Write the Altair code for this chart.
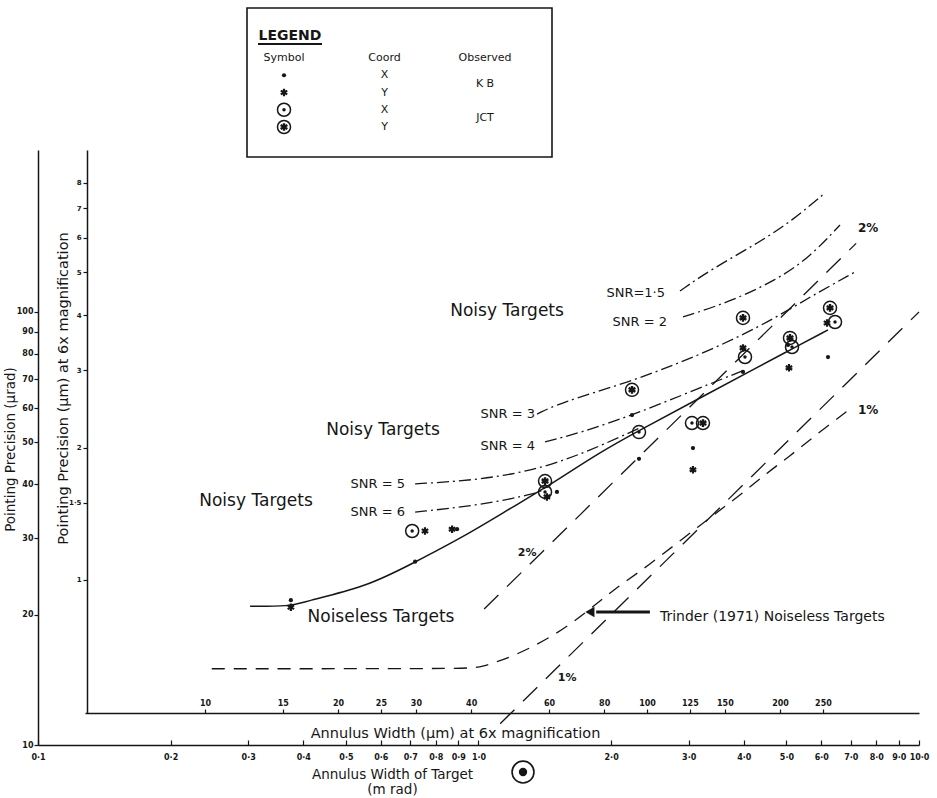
import altair as alt
import pandas as pd

# ---------------- data (annulus width in mrad, pointing precision in micro-rad) ----------------
kb_x_width = [0.375, 0.718, 0.894, 1.507, 2.231, 2.314, 3.068, 3.985, 5.042, 6.215]
kb_x_prec = [21.6, 26.5, 31.5, 38.4, 57.8, 45.8, 48.5, 72.7, 83.9, 78.7]
kb_y_width = [0.375, 0.756, 0.871, 1.430, 3.068, 3.985, 5.068, 6.183]
kb_y_prec = [20.8, 31.2, 31.5, 37.4, 43.2, 82.6, 74.3, 94.3]
jct_x_width = [0.707, 1.416, 2.314, 3.052, 4.027, 5.149, 6.447]
jct_x_prec = [31.2, 38.4, 52.8, 55.4, 78.7, 83.0, 94.8]
jct_y_width = [1.416, 2.231, 3.233, 3.985, 5.095, 6.281]
jct_y_prec = [40.7, 66.1, 55.4, 96.9, 87.1, 102.2]

fit_width = [0.303, 0.373, 0.400, 0.558, 0.710, 0.922, 1.198, 1.416, 1.888, 2.326, 3.183, 4.356, 5.095, 6.215]
fit_prec = [20.9, 20.9, 21.4, 23.2, 26.3, 30.2, 35.5, 39.2, 47.5, 53.4, 63.3, 75.0, 81.7, 90.9]

snr_15_width = [2.867, 3.354, 4.356, 5.176, 6.118]
snr_15_prec = [111.8, 125.0, 145.1, 163.1, 188.3]
snr_2_width = [2.912, 3.665, 4.761, 5.656, 6.617]
snr_2_prec = [97.4, 104.9, 118.6, 134.0, 158.8]
snr_3_width = [1.358, 1.531, 2.174, 3.068, 4.356, 5.656, 7.157]
snr_3_prec = [58.1, 61.7, 68.6, 78.3, 92.3, 108.3, 123.7]
snr_4_width = [1.416, 1.700, 2.243, 3.183, 4.027]
snr_4_prec = [50.1, 52.6, 57.8, 66.8, 73.5]
snr_5_width = [0.718, 1.008, 1.416, 1.888, 2.326]
snr_5_prec = [40.1, 40.9, 43.6, 49.0, 54.0]
snr_6_width = [0.718, 1.008, 1.379, 1.416]
snr_6_prec = [34.5, 35.8, 38.2, 39.2]

trinder_width = [0.248, 0.95, 1.008, 1.198, 1.476, 1.764, 2.020, 2.413, 3.183, 3.985, 4.518, 5.095, 5.745, 7.083]
trinder_prec = [15.0, 15.0, 15.1, 16.0, 17.8, 20.3, 22.8, 25.8, 32.2, 38.2, 42.5, 46.5, 51.4, 60.4]

pct2_width = [1.03, 7.2]
pct2_prec = [20.6, 144.0]
pct1_width = [1.12, 10.0]
pct1_prec = [11.2, 100.0]

big_text = ["Noisy Targets", "Noisy Targets", "Noisy Targets", "Noiseless Targets"]
big_width = [1.161, 0.607, 0.3126, 0.6006]
big_prec = [100.5, 53.4, 36.6, 19.75]

snr_text = ["SNR=1·5", "SNR = 2", "SNR = 3", "SNR = 4", "SNR = 5", "SNR = 6"]
snr_text_width = [2.651, 2.679, 1.344, 1.344, 0.681, 0.681]
snr_text_prec = [110.6, 94.8, 58.1, 49.0, 40.1, 34.5]

pct_text_left = ["2%", "1%"]
pct_left_width = [7.27, 7.27]
pct_left_prec = [156.3, 59.4]
pct_text_other = ["2%", "1%"]
pct_other_width = [1.289, 1.589]
pct_other_prec = [27.8, 14.3]

trinder_label = ["Trinder (1971) Noiseless Targets"]
trinder_label_width = [2.582]
trinder_label_prec = [19.75]
arrow_width = [2.45, 1.85]
arrow_prec = [20.28, 20.28]
arrow_tip_width = [1.79]

target_icon_width = [1.262]
target_icon_prec = [8.66]

outer_x_ticks = [0.1, 0.2, 0.3, 0.4, 0.5, 0.6, 0.7, 0.8, 0.9, 1.0, 2.0, 3.0, 4.0, 5.0, 6.0, 7.0, 8.0, 9.0, 10.0]
outer_y_ticks = [10, 20, 30, 40, 50, 60, 70, 80, 90, 100]
inner_x_ticks = [10, 15, 20, 25, 30, 40, 60, 80, 100, 125, 150, 200, 250]
inner_y_ticks = [1, 1.5, 2, 3, 4, 5, 6, 7, 8]

legend_columns = ["Symbol", "Coord", "Observed"]
legend_coords = ["X", "Y", "X", "Y"]
legend_observers = ["K B", "JCT"]
legend_observer_rows = [1.5, 3.5]

# ---------------- layout constants ----------------
INK = "#161616"
FONT = "DejaVu Sans"
W, H = 881, 595
X_DOMAIN = [0.1, 10.0]
Y_DOMAIN = [10.0, 236.6]
INNER_X_DOMAIN = [5.352, 412.4]
INNER_Y_DOMAIN = [0.4985, 9.49]
ASTERISK = "M0,-1L0,1M-0.87,-0.5L0.87,0.5M-0.87,0.5L0.87,-0.5"


def xs(axis=None):
    return alt.X("w:Q", scale=alt.Scale(type="log", domain=X_DOMAIN, nice=False), axis=axis)


def ys(axis=None):
    return alt.Y("p:Q", scale=alt.Scale(type="log", domain=Y_DOMAIN, nice=False), axis=axis)


def df(w, p, **extra):
    d = pd.DataFrame({"w": w, "p": p})
    for k, v in extra.items():
        d[k] = v
    return d


def dot(data, x, y, size=14):
    return alt.Chart(data).mark_point(shape="circle", filled=True, size=size, color=INK, opacity=1).encode(x=x, y=y)


def ring(data, x, y, size=170, sw=1.5):
    return alt.Chart(data).mark_point(shape="circle", filled=False, size=size, color=INK, strokeWidth=sw, opacity=1).encode(x=x, y=y)


def aster(data, x, y, size=55, sw=2.0):
    return alt.Chart(data).mark_point(shape=ASTERISK, filled=False, size=size, color=INK, strokeWidth=sw, opacity=1).encode(x=x, y=y)


def kb_x(data, x, y):
    return [dot(data, x, y, 18)]


def kb_y(data, x, y):
    return [aster(data, x, y, 55, 2.2), dot(data, x, y, 16)]


def jct_x(data, x, y):
    return [ring(data, x, y), dot(data, x, y, 12)]


def jct_y(data, x, y):
    return [ring(data, x, y), aster(data, x, y, 60, 2.4), dot(data, x, y, 18)]


layers = []

# outer axes carried by the fitted curve
outer_x_axis = alt.Axis(
    orient="top", offset=-H, values=outer_x_ticks,
    labelExpr="replace(format(datum.value, '.1f'), '.', '·')",
    tickSize=5, labelPadding=-17, labelBaseline="middle", labelFontSize=8, labelFontWeight="bold",
    labelOverlap=False, labelFlush=False, grid=False,
    title=["Annulus Width of Target", "(m rad)"], titleX=354, titleY=22, titleBaseline="top",
    titleFontSize=13.5, titleFontWeight="normal", titleLineHeight=15,
)
outer_y_axis = alt.Axis(
    orient="left", values=outer_y_ticks, tickSize=4, labelFontSize=8, labelFontWeight="bold",
    labelOverlap=False, labelFlush=False, grid=False, labelPadding=1,
    title="Pointing Precision  (μrad)", titleX=-28, titleY=299, titleBaseline="middle",
    titleFontSize=13.5, titleFontWeight="normal",
)
fit_df = df(fit_width, fit_prec)
layers.append(alt.Chart(fit_df).mark_line(color=INK, strokeWidth=1.5, interpolate="basis").encode(
    x=xs(outer_x_axis), y=ys(outer_y_axis)))

# inner axes (micro-metre at 6x magnification)
inner_df = pd.DataFrame({"um": inner_x_ticks[:2], "pu": inner_y_ticks[:2]})
inner_x_axis = alt.Axis(
    orient="top", offset=-563, values=inner_x_ticks, tickSize=4, labelPadding=2,
    labelFontSize=8, labelFontWeight="bold", labelOverlap=False, labelFlush=False, grid=False,
    title="Annulus Width (μm) at 6x magnification", titleX=417, titleY=20, titleBaseline="middle",
    titleFontSize=14.5, titleFontWeight="normal",
)
inner_y_axis = alt.Axis(
    orient="left", offset=-49, values=inner_y_ticks, tickSize=4, labelPadding=2,
    labelExpr="replace(format(datum.value, ''), '.', '·')",
    labelFontSize=7, labelFontWeight="bold", labelOverlap=False, labelFlush=False, grid=False,
    title="Pointing Precision (μm) at 6x magnification", titleX=-24, titleY=238, titleBaseline="middle",
    titleFontSize=14.5, titleFontWeight="normal",
)
layers.append(alt.Chart(inner_df).mark_point(opacity=0).encode(
    x=alt.X("um:Q", scale=alt.Scale(type="log", domain=INNER_X_DOMAIN, range=[47, W], nice=False), axis=inner_x_axis),
    y=alt.Y("pu:Q", scale=alt.Scale(type="log", domain=INNER_Y_DOMAIN, range=[563, 0], nice=False), axis=inner_y_axis),
))

# SNR curves (dash-dot)
snr_df = pd.concat([
    df(snr_15_width, snr_15_prec, c="1.5"), df(snr_2_width, snr_2_prec, c="2"),
    df(snr_3_width, snr_3_prec, c="3"), df(snr_4_width, snr_4_prec, c="4"),
    df(snr_5_width, snr_5_prec, c="5"), df(snr_6_width, snr_6_prec, c="6"),
])
layers.append(alt.Chart(snr_df).mark_line(color=INK, strokeWidth=1.3, strokeDash=[12, 4, 2, 4],
                                          interpolate="basis").encode(x=xs(), y=ys(), detail="c:N"))

# percentage lines (long dash)
pct_df = pd.concat([df(pct2_width, pct2_prec, c="2%"), df(pct1_width, pct1_prec, c="1%")])
layers.append(alt.Chart(pct_df).mark_line(color=INK, strokeWidth=1.3, strokeDash=[20, 12]).encode(
    x=xs(), y=ys(), detail="c:N"))

# Trinder noiseless curve
layers.append(alt.Chart(df(trinder_width, trinder_prec)).mark_line(
    color=INK, strokeWidth=1.3, strokeDash=[13, 9], interpolate="basis").encode(x=xs(), y=ys()))

# arrow to Trinder curve
layers.append(alt.Chart(df(arrow_width, arrow_prec)).mark_line(color=INK, strokeWidth=3).encode(x=xs(), y=ys()))
layers.append(alt.Chart(df(arrow_tip_width, arrow_prec[:1])).mark_point(
    shape="triangle-left", filled=True, size=110, color=INK, opacity=1).encode(x=xs(), y=ys()))

# observations
layers += kb_x(df(kb_x_width, kb_x_prec), xs(), ys())
layers += kb_y(df(kb_y_width, kb_y_prec), xs(), ys())
layers += jct_x(df(jct_x_width, jct_x_prec), xs(), ys())
layers += jct_y(df(jct_y_width, jct_y_prec), xs(), ys())

# target icon below axis
icon = df(target_icon_width, target_icon_prec)
layers.append(ring(icon, xs(), ys(), size=480, sw=1.6))
layers.append(dot(icon, xs(), ys(), size=70))

# annotations
layers.append(alt.Chart(df(big_width, big_prec, t=big_text)).mark_text(
    font=FONT, fontSize=17, color=INK, align="center", baseline="middle").encode(x=xs(), y=ys(), text="t:N"))
layers.append(alt.Chart(df(snr_text_width, snr_text_prec, t=snr_text)).mark_text(
    font=FONT, fontSize=13, color=INK, align="right", baseline="middle").encode(x=xs(), y=ys(), text="t:N"))
layers.append(alt.Chart(df(pct_left_width, pct_left_prec, t=pct_text_left)).mark_text(
    font=FONT, fontSize=12, fontWeight="bold", color=INK, align="left", baseline="middle").encode(x=xs(), y=ys(), text="t:N"))
layers.append(alt.Chart(df(pct_other_width, pct_other_prec, t=pct_text_other)).mark_text(
    font=FONT, fontSize=11, fontWeight="bold", color=INK, align="center", baseline="middle").encode(x=xs(), y=ys(), text="t:N"))
layers.append(alt.Chart(df(trinder_label_width, trinder_label_prec, t=trinder_label)).mark_text(
    font=FONT, fontSize=14, color=INK, align="left", baseline="middle").encode(x=xs(), y=ys(), text="t:N"))

# ---------------- legend table ----------------
LX = alt.Scale(type="point", domain=legend_columns, range=[246, 447], padding=0)
LY = alt.Scale(type="linear", domain=[0, 4], range=[-92, -23], nice=False, zero=False)


def lx():
    return alt.X("col:N", scale=LX, axis=None)


def ly():
    return alt.Y("row:Q", scale=LY, axis=None)


layers.append(alt.Chart(pd.DataFrame({"a": [0]})).mark_rect(
    filled=False, stroke=INK, strokeWidth=1.6).encode(
    x=alt.value(209), x2=alt.value(514), y=alt.value(-142), y2=alt.value(7)))
layers.append(alt.Chart(pd.DataFrame({"a": [0]})).mark_rule(color=INK, strokeWidth=2).encode(
    x=alt.value(220), x2=alt.value(284), y=alt.value(-106)))
layers.append(alt.Chart(pd.DataFrame({"col": ["Symbol"], "row": [-1.28], "t": ["LEGEND"]})).mark_text(
    font=FONT, fontSize=14, fontWeight="bold", color=INK, align="center", baseline="middle", dx=6).encode(
    x=lx(), y=ly(), text="t:N"))
layers.append(alt.Chart(pd.DataFrame({"col": legend_columns, "row": [0] * 3, "t": legend_columns})).mark_text(
    font=FONT, fontSize=11, color=INK, align="center", baseline="middle").encode(x=lx(), y=ly(), text="t:N"))
layers.append(alt.Chart(pd.DataFrame({"col": ["Coord"] * 4, "row": [1, 2, 3, 4], "t": legend_coords})).mark_text(
    font=FONT, fontSize=11, color=INK, align="center", baseline="middle").encode(x=lx(), y=ly(), text="t:N"))
layers.append(alt.Chart(pd.DataFrame({"col": ["Observed"] * 2, "row": legend_observer_rows, "t": legend_observers})).mark_text(
    font=FONT, fontSize=11, color=INK, align="center", baseline="middle").encode(x=lx(), y=ly(), text="t:N"))
layers += kb_x(pd.DataFrame({"col": ["Symbol"], "row": [1]}), lx(), ly())
layers += kb_y(pd.DataFrame({"col": ["Symbol"], "row": [2]}), lx(), ly())
layers += jct_x(pd.DataFrame({"col": ["Symbol"], "row": [3]}), lx(), ly())
layers += jct_y(pd.DataFrame({"col": ["Symbol"], "row": [4]}), lx(), ly())

chart = alt.layer(*layers).resolve_scale(x="independent", y="independent").properties(
    width=W, height=H, padding={"left": 3, "top": 7, "right": 5, "bottom": 3}, background="white",
).configure_view(stroke=None).configure_axis(
    domainColor=INK, domainWidth=1.5, tickColor=INK, tickWidth=1.2, labelColor=INK, titleColor=INK,
    labelFont=FONT, titleFont=FONT,
)

chart.save("out.html", embed_options={"renderer": "svg", "actions": False})
